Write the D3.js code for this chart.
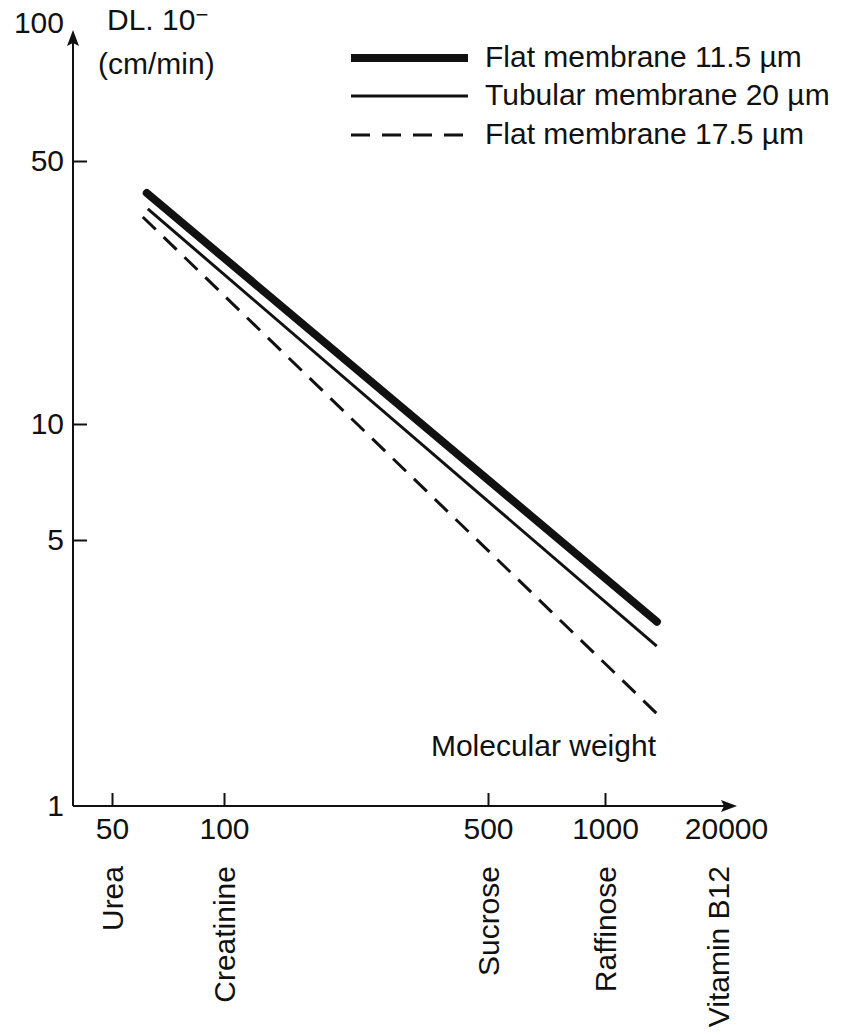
<!DOCTYPE html>
<html>
<head>
<meta charset="utf-8">
<script src="https://cdn.jsdelivr.net/npm/d3@7"></script>
<style>
  body { margin: 0; background: #fff; }
  text { font-family: "Liberation Sans", Arial, sans-serif; fill: #111; }
</style>
</head>
<body>
<div id="chart"></div>
<script>
// ---- data ----
const seriesNames = ["Flat membrane 11.5 \u00b5m", "Tubular membrane 20 \u00b5m", "Flat membrane 17.5 \u00b5m"];
const startWeight = [62, 62.4, 60.5];     // molecular weight at left end of each line
const endWeight = [3620, 3600, 3600];     // molecular weight at right end
const startDL = [41.1, 37.3, 35.5];       // DL.10^-x (cm/min) at left end
const endDL = [3.05, 2.63, 1.75];         // at right end

const xTicks = [50, 100, 500, 1000, 20000];
const yTicks = [1, 5, 10, 50, 100];
const solutes = ["Urea", "Creatinine", "Sucrose", "Raffinose", "Vitamin B12"];

// line styles
const widths = [8, 3, 3];
const dashes = [null, null, "18,11"];

let width = 853, height = 1035;

let svg = d3.select("#chart").append("svg")
    .attr("width", width)
    .attr("height", height);

svg.append("rect").attr("width", width).attr("height", height).attr("fill", "#fff");

// the printed axes are not quite logarithmic, so use piecewise log scales
let x = d3.scaleLog().domain(xTicks).range([112, 224, 488, 605, 726]);
let y = d3.scaleLog().domain(yTicks).range([806, 540, 424, 161, 28]);

let x0 = 73, y0 = 806;

// axes lines with arrows
svg.append("line").attr("x1", x0).attr("y1", y0).attr("x2", 730).attr("y2", y0)
    .attr("stroke", "#111").attr("stroke-width", 2);
svg.append("path").attr("d", `M737,${y0} L721,${y0 - 6} L724,${y0} L721,${y0 + 6} Z`).attr("fill", "#111");
svg.append("line").attr("x1", x0).attr("y1", y0).attr("x2", x0).attr("y2", 38)
    .attr("stroke", "#111").attr("stroke-width", 2);
svg.append("path").attr("d", `M${x0},30 L${x0 - 6},46 L${x0},43 L${x0 + 6},46 Z`).attr("fill", "#111");

// x axis
let xAxis = svg.append("g")
    .attr("transform", `translate(0,${y0})`)
    .call(d3.axisBottom(x).tickValues(xTicks).tickFormat(d3.format("d")).tickSize(-13).tickPadding(12));
xAxis.select(".domain").remove();
xAxis.selectAll(".tick line").attr("stroke", "#111").attr("stroke-width", 2)
    .filter(d => d == 20000).remove();
xAxis.selectAll("text").attr("font-size", 30).attr("fill", "#111")
    .style("font-family", "'Liberation Sans', Arial, sans-serif");

// y axis
let yAxis = svg.append("g")
    .attr("transform", `translate(${x0},0)`)
    .call(d3.axisLeft(y).tickValues(yTicks).tickFormat(d3.format("d")).tickSize(-14).tickPadding(9));
yAxis.select(".domain").remove();
yAxis.selectAll(".tick line").attr("stroke", "#111").attr("stroke-width", 2)
    .filter(d => d == 1 || d == 100).remove();
yAxis.selectAll("text").attr("font-size", 30).attr("fill", "#111")
    .style("font-family", "'Liberation Sans', Arial, sans-serif");
yAxis.selectAll(".tick").filter(d => d == 100).select("text").attr("dy", "0.15em");

// solute names under the axis
svg.selectAll(".solute")
    .data(solutes)
    .join("text")
    .attr("class", "solute")
    .attr("transform", (d, i) => `translate(${x(xTicks[i]) - (i == 4 ? 8 : 0)},866) rotate(-90)`)
    .attr("dy", "0.35em")
    .attr("text-anchor", "end")
    .attr("font-size", 30)
    .text(d => d);

// data lines
let lineGen = d3.line().x(d => x(d[0])).y(d => y(d[1]));
let lineData = seriesNames.map((s, i) => [[startWeight[i], startDL[i]], [endWeight[i], endDL[i]]]);

svg.selectAll(".series")
    .data(lineData)
    .join("path")
    .attr("class", "series")
    .attr("d", lineGen)
    .attr("fill", "none")
    .attr("stroke", "#111")
    .attr("stroke-width", (d, i) => widths[i])
    .attr("stroke-linecap", (d, i) => i == 0 ? "round" : "butt")
    .attr("stroke-dasharray", (d, i) => dashes[i]);

// legend
let legendY = [58, 96, 135];
let legend = svg.selectAll(".legend")
    .data(seriesNames)
    .join("g")
    .attr("class", "legend")
    .attr("transform", (d, i) => `translate(351,${legendY[i]})`);
legend.append("line")
    .attr("x1", 0).attr("x2", 117)
    .attr("stroke", "#111")
    .attr("stroke-width", (d, i) => widths[i])
    .attr("stroke-dasharray", (d, i) => dashes[i] ? "19,12" : null);
legend.append("text")
    .attr("x", 134)
    .attr("dy", "0.3em")
    .attr("font-size", 30)
    .text(d => d);

// titles
let title = svg.append("text").attr("x", 107).attr("y", 30).attr("font-size", 30);
title.append("tspan").text("DL. 10");
title.append("tspan").attr("dy", -8).attr("font-size", 22).text("\u2212");
svg.append("text").attr("x", 98).attr("y", 74).attr("font-size", 30).text("(cm/min)");

svg.append("text")
    .attr("x", 656).attr("y", 756)
    .attr("text-anchor", "end")
    .attr("font-size", 30)
    .text("Molecular weight");
</script>
</body>
</html>
